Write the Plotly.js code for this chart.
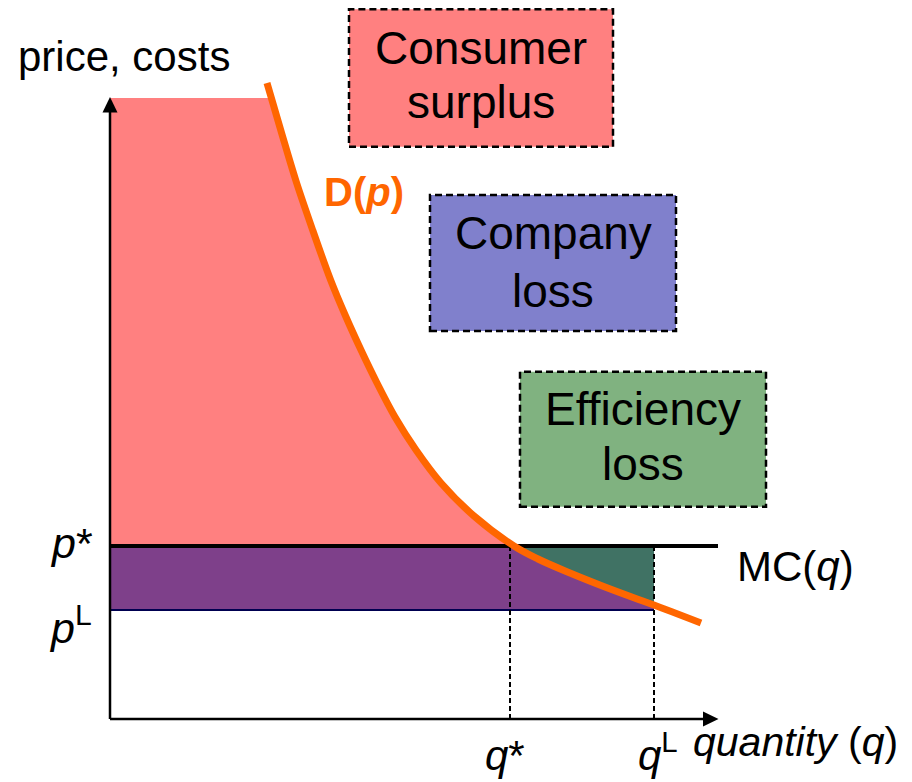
<!DOCTYPE html>
<html><head><meta charset="utf-8">
<script src="https://cdn.plot.ly/plotly-3.0.1.min.js"></script>
<style>html,body{margin:0;padding:0;background:#fff}#chart{width:912px;height:782px}</style>
</head><body><div id="chart"></div>
<script>
// Demand curve D(p): quantity and price points
const demandQ = [1.57, 1.71, 1.86, 2.03, 2.21, 2.36, 2.51, 2.67, 2.85, 3.06, 3.31, 3.64, 4.04, 4.28, 4.60, 4.95, 5.30, 5.44, 5.91];
const demandP = [6.36, 5.88, 5.38, 4.88, 4.38, 4.02, 3.69, 3.36, 3.02, 2.69, 2.36, 2.03, 1.73, 1.60, 1.46, 1.32, 1.19, 1.14, 0.96];
// Key levels
const pStar = 1.73;   // p*  = MC(q)
const pLow = 1.09;    // p^L
const qStar = 4.00;   // q*
const qLow = 5.44;    // q^L
const axisTopP = 6.21;
const axisEndQ = 6.08;

function qAtP(p) {
  for (let i = 0; i < demandP.length - 1; i++) {
    if (demandP[i] >= p && demandP[i + 1] <= p) {
      const t = (demandP[i] - p) / (demandP[i] - demandP[i + 1]);
      return demandQ[i] + t * (demandQ[i + 1] - demandQ[i]);
    }
  }
  return demandQ[0];
}
function pAtQ(q) {
  for (let i = 0; i < demandQ.length - 1; i++) {
    if (demandQ[i] <= q && demandQ[i + 1] >= q) {
      const t = (q - demandQ[i]) / (demandQ[i + 1] - demandQ[i]);
      return demandP[i] + t * (demandP[i + 1] - demandP[i]);
    }
  }
  return demandP[demandP.length - 1];
}

const qCross = qAtP(pStar);

// Consumer surplus polygon
const csX = [0, 0, qAtP(axisTopP)], csY = [pStar, axisTopP, axisTopP];
for (let i = 0; i < demandQ.length; i++) {
  if (demandP[i] < axisTopP && demandP[i] > pStar) { csX.push(demandQ[i]); csY.push(demandP[i]); }
}
csX.push(qCross, 0); csY.push(pStar, pStar);

// Efficiency loss polygon
const elX = [qCross, qLow, qLow], elY = [pStar, pStar, pAtQ(qLow)];
for (let i = demandQ.length - 1; i >= 0; i--) {
  if (demandQ[i] < qLow && demandQ[i] > qCross) { elX.push(demandQ[i]); elY.push(demandP[i]); }
}
elX.push(qCross); elY.push(pStar);

const FONT = 'Liberation Sans, Arial, sans-serif';

const traces = [
  { x: csX, y: csY, mode: 'lines', fill: 'toself', fillcolor: '#FF8080', line: { width: 0 }, hoverinfo: 'skip' },
  { x: [0, qLow, qLow, 0, 0], y: [pLow, pLow, pStar, pStar, pLow], mode: 'lines', fill: 'toself', fillcolor: '#7E408A', line: { width: 0 }, hoverinfo: 'skip' },
  { x: elX, y: elY, mode: 'lines', fill: 'toself', fillcolor: '#407264', line: { width: 0 }, hoverinfo: 'skip' },
  { x: [0, qLow], y: [pLow, pLow], mode: 'lines', line: { color: '#000050', width: 2 }, hoverinfo: 'skip' },
  { x: [qStar, qStar], y: [0, pStar], mode: 'lines', line: { color: '#000', width: 2, dash: '5px,3px' }, hoverinfo: 'skip' },
  { x: [qLow, qLow], y: [0, pStar], mode: 'lines', line: { color: '#000', width: 2, dash: '5px,3px' }, hoverinfo: 'skip' },
  { x: [0, axisEndQ], y: [pStar, pStar], mode: 'lines', line: { color: '#000', width: 4 }, hoverinfo: 'skip' },
  { x: demandQ, y: demandP, mode: 'lines', line: { color: '#FF6600', width: 7, shape: 'spline', smoothing: 1 }, hoverinfo: 'skip' }
];

function txt(text, x, y, size, extra) {
  return Object.assign({ text: text, x: x, y: y, xref: 'x', yref: 'y', xanchor: 'center', yanchor: 'bottom',
    showarrow: false, font: { family: FONT, size: size, color: '#000' } }, extra || {});
}

const annotations = [
  txt('price, costs', 0.14, 6.37, 42),
  txt('Consumer', 3.71, 6.432, 46),
  txt('surplus', 3.71, 5.892, 46),
  txt('Company', 4.43, 4.582, 46),
  txt('loss', 4.43, 4.0025, 46),
  txt('Efficiency', 5.33, 2.816, 46),
  txt('loss', 5.33, 2.266, 46),
  txt('<b>D(<i>p</i>)</b>', 2.54, 5.028, 40, { font: { family: FONT, size: 40, color: '#FF6600' } }),
  txt('<i>p</i>*', -0.39, 1.501, 43),
  txt('<i>p</i><sup>L</sup>', -0.40, 0.649, 43),
  txt('MC(<i>q</i>)', 6.855, 1.274, 42),
  txt('<i>q</i>*', 3.95, -0.619, 42),
  txt('<i>q</i><sup>L</sup>', 5.48, -0.619, 42),
  txt('<i>quantity</i> (<i>q</i>)', 6.855, -0.479, 41)
];

const boxLine = { color: '#000', width: 2.5, dash: '7px,4px' };
const shapes = [
  // axes with arrowheads
  { type: 'line', xref: 'x', yref: 'y', x0: 0, y0: 0, x1: 0, y1: axisTopP - 0.12, line: { color: '#000', width: 2.5 }, layer: 'above' },
  { type: 'path', xref: 'x', yref: 'y', path: 'M -0.075 6.065 L 0.075 6.065 L 0 6.22 Z', fillcolor: '#000', line: { width: 0 }, layer: 'above' },
  { type: 'line', xref: 'x', yref: 'y', x0: 0, y0: 0, x1: axisEndQ - 0.12, y1: 0, line: { color: '#000', width: 2.5 }, layer: 'above' },
  { type: 'path', xref: 'x', yref: 'y', path: 'M 5.93 -0.075 L 5.93 0.075 L 6.085 0 Z', fillcolor: '#000', line: { width: 0 }, layer: 'above' },
  // legend boxes
  { type: 'rect', xref: 'x', yref: 'y', x0: 2.39, x1: 5.03, y0: 5.723, y1: 7.097, fillcolor: '#FF8080', line: boxLine, layer: 'above' },
  { type: 'rect', xref: 'x', yref: 'y', x0: 3.20, x1: 5.66, y0: 3.88, y1: 5.24, fillcolor: '#8080CC', line: boxLine, layer: 'above' },
  { type: 'rect', xref: 'x', yref: 'y', x0: 4.10, x1: 6.56, y0: 2.123, y1: 3.473, fillcolor: '#80B280', line: boxLine, layer: 'above' }
];

const axisCommon = { showgrid: false, zeroline: false, showticklabels: false, ticks: '', showline: false, fixedrange: true };

const layout = {
  width: 912, height: 782,
  margin: { l: 0, r: 0, t: 0, b: 0, pad: 0 },
  paper_bgcolor: '#fff', plot_bgcolor: '#fff',
  showlegend: false, hovermode: false,
  xaxis: Object.assign({ range: [-1.10, 8.02] }, axisCommon),
  yaxis: Object.assign({ range: [-0.63, 7.19] }, axisCommon),
  annotations: annotations,
  shapes: shapes
};

Plotly.newPlot('chart', traces, layout, { displayModeBar: false, staticPlot: true });
</script>
</body></html>
